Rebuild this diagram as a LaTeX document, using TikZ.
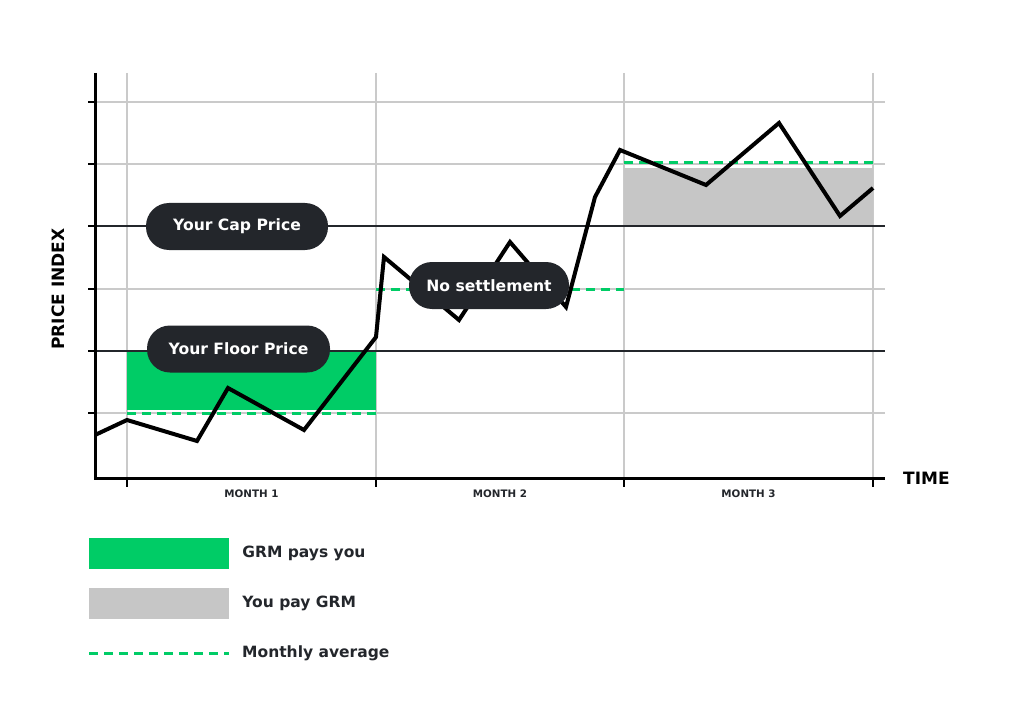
\documentclass[tikz,border=0pt]{standalone}
\usepackage{fontspec}
\setmainfont{DejaVu Sans}
\usetikzlibrary{positioning}
\definecolor{grmgreen}{RGB}{0,204,102}
\definecolor{paygray}{RGB}{198,198,198}
\definecolor{gridgray}{RGB}{202,202,202}
\definecolor{pilldark}{RGB}{35,38,43}
\tikzset{
	pill/.style={fill=pilldark, text=white, rounded corners=23pt, minimum height=47pt, inner xsep=0pt, font=\fontsize{15.6}{17}\selectfont\bfseries},
	avg/.style={grmgreen, line width=3pt, dash pattern=on 9pt off 6pt},
	gridline/.style={gridgray, line width=2pt},
	priceline/.style={line width=4pt, line join=miter},
	legtext/.style={font=\fontsize{15.5}{17}\selectfont\bfseries, text=pilldark},
	monthlabel/.style={font=\fontsize{10.3}{12}\selectfont\bfseries, text=pilldark},
}

\begin{document}
\begin{tikzpicture}[x=1pt,y=-1pt]
		\useasboundingbox (0,0) rectangle (1024,711);
		% grid
		\foreach \y in {102,164,289,413}
			\draw[gridline] (95,\y) -- (885,\y);
		\foreach \x in {127,376,624,873}
			\draw[gridline] (\x,73) -- (\x,478);
		% settlement areas
		\fill[grmgreen] (127,351) rectangle (376,410);
		\fill[paygray] (624,168) rectangle (873,226);
		% cap and floor
		\draw[pilldark, line width=2pt] (95,226) -- (885,226);
		\draw[pilldark, line width=2pt] (95,351) -- (885,351);
		% monthly averages
		\draw[avg] (127,413) -- (376,413);
		\draw[avg] (376,289) -- (624,289);
		\draw[avg] (624,163) -- (873,163);
		% axes
		\coordinate (top) at (95,73);
		\coordinate (o) at (95,478);
		\coordinate (xend) at (885,478);
		\draw[line width=3pt] (top) -- (o) -- (xend);
		\foreach \y in {102,164,226,289,351,413}
			\draw[line width=2.5pt] (88,\y) -- (95,\y);
		\foreach \x in {127,376,624,873}
			\draw[line width=2.5pt] (\x,478) -- (\x,487);
		% price index
		\foreach \n/\px/\py in {0/95/435, 1/127/420, 2/197/441, 3/228/388, 4/304/430, 5/376/337,
			6/384/257, 7/459/320, 8/510/242, 9/566/307, 10/595/197, 11/620/150,
			12/706/185, 13/779/123, 14/840/216, 15/873/188}
			\coordinate (p\n) at (\px,\py);
		\draw[priceline] (p0) \foreach \n in {1,...,15} { -- (p\n) };
		% labels
		\node[pill, minimum width=182pt] (cappill) at (237,226.5) {Your Cap Price};
		\node[pill, minimum width=183pt] (floorpill) at (238.5,349) {Your Floor Price};
		\node[pill, minimum width=160pt] (nosettle) at (489,285.5) {No settlement};
		\node[rotate=90, font=\fontsize{17}{19}\selectfont\bfseries] (yname) at (58,289) {PRICE INDEX};
		\node[anchor=west, inner xsep=0pt, font=\fontsize{17}{19}\selectfont\bfseries] (xname) at (903,478) {TIME};
		\node[monthlabel] (m1) at (251.5,494) {MONTH 1};
		\node[monthlabel] (m2) at (500,494) {MONTH 2};
		\node[monthlabel] (m3) at (748.5,494) {MONTH 3};
		% legend
		\node[fill=grmgreen, minimum width=140pt, minimum height=31pt, inner sep=0pt] (paysbox) at (159,553.5) {};
		\node[fill=paygray, minimum width=140pt, minimum height=31pt, inner sep=0pt] (paybox) at (159,603.5) {};
		\coordinate (avgA) at (89,653);
		\coordinate (avgB) at (229,653);
		\draw[avg] (avgA) -- (avgB);
		\node[legtext, right=13pt of paysbox, inner xsep=0pt] (paystext) {GRM pays you};
		\node[legtext, right=13pt of paybox, inner xsep=0pt] (paytext) {You pay GRM};
		\node[legtext, right=13pt of avgB, inner xsep=0pt] (avgtext) {Monthly average};
	\end{tikzpicture}
\end{document}
